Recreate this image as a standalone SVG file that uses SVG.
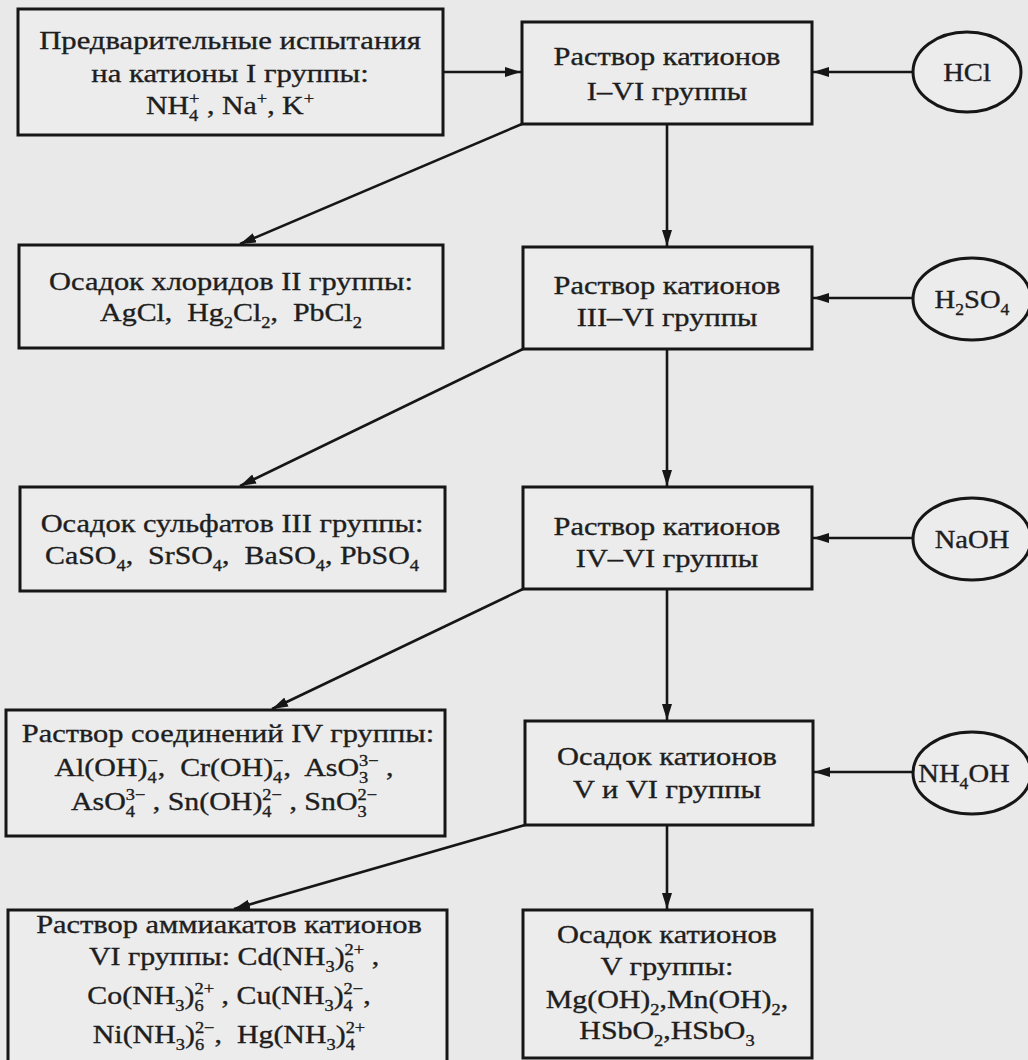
<svg xmlns="http://www.w3.org/2000/svg" width="1028" height="1060" viewBox="0 0 1028 1060">
<defs>
<style>
.bg{fill:#e9e9e9}
.box{fill:#ececec;stroke:#161616;stroke-width:3}
.ell{fill:#ececec;stroke:#161616;stroke-width:3}
.t{font-family:"Liberation Serif","Times New Roman",serif;font-size:26px;fill:#1e1e1e;stroke:#1e1e1e;stroke-width:0.35;text-anchor:middle;white-space:pre}
.s{font-size:16px}
.c{stroke:#161616;stroke-width:2.6;fill:none;marker-end:url(#ah)}
</style>
<marker id="ah" viewBox="0 0 16 10" markerWidth="16" markerHeight="10" refX="16" refY="5" orient="auto" markerUnits="userSpaceOnUse">
<path d="M0,0 L16,5 L0,10 z" fill="#161616"/>
</marker>
</defs>
<rect class="bg" x="0" y="0" width="1028" height="1060"/>

<g id="connectors">
<line class="c" x1="443" y1="72" x2="521" y2="72"/>
<line class="c" x1="913" y1="72" x2="813" y2="72"/>
<line class="c" x1="913" y1="298" x2="813" y2="298"/>
<line class="c" x1="913" y1="538" x2="813" y2="538"/>
<line class="c" x1="913" y1="772" x2="814" y2="772"/>
<line class="c" x1="667" y1="124" x2="667" y2="246"/>
<line class="c" x1="667" y1="349" x2="667" y2="486"/>
<line class="c" x1="667" y1="589" x2="667" y2="720"/>
<line class="c" x1="667" y1="825" x2="667" y2="909"/>
<line class="c" x1="522" y1="124" x2="240" y2="244"/>
<line class="c" x1="523" y1="349" x2="240" y2="486"/>
<line class="c" x1="523" y1="589" x2="272" y2="709"/>
<line class="c" x1="525" y1="825" x2="234" y2="909"/>
</g>

<g id="prelim">
<rect class="box" x="18" y="9" width="425" height="126"/>
<text class="t" transform="translate(230 49) scale(1.18 1)">Предварительные испытания</text>
<text class="t" transform="translate(230 82) scale(1.18 1)">на катионы I группы:</text>
<text class="t" transform="translate(230 114) scale(1.15 1)">NH<tspan class="s" dy="7">4</tspan><tspan class="s" dx="-8" dy="-17">+</tspan><tspan dy="10"> , Na</tspan><tspan class="s" dy="-10">+</tspan><tspan dy="10">, K</tspan><tspan class="s" dy="-10">+</tspan></text>
</g>

<g id="sol1">
<rect class="box" x="522" y="22" width="290" height="102"/>
<text class="t" transform="translate(667 65) scale(1.17 1)">Раствор катионов</text>
<text class="t" transform="translate(667 100) scale(1.17 1)">I–VI группы</text>
</g>

<g id="hcl">
<ellipse class="ell" cx="967" cy="72" rx="54" ry="40"/>
<text class="t" transform="translate(967 81) scale(1.1 1)">HCl</text>
</g>

<g id="chlorides">
<rect class="box" x="19" y="245" width="424" height="103"/>
<text class="t" transform="translate(231 290) scale(1.17 1)">Осадок хлоридов II группы:</text>
<text class="t" transform="translate(231 321) scale(1.15 1)">AgCl,  Hg<tspan class="s" dy="7">2</tspan><tspan dy="-7">Cl</tspan><tspan class="s" dy="7">2</tspan><tspan dy="-7">,  PbCl</tspan><tspan class="s" dy="7">2</tspan></text>
</g>

<g id="sol2">
<rect class="box" x="523" y="247" width="289" height="102"/>
<text class="t" transform="translate(667 294) scale(1.17 1)">Раствор катионов</text>
<text class="t" transform="translate(667 326) scale(1.17 1)">III–VI группы</text>
</g>

<g id="h2so4">
<ellipse class="ell" cx="972" cy="299" rx="59" ry="41"/>
<text class="t" transform="translate(972 308) scale(1.1 1)">H<tspan class="s" dy="7">2</tspan><tspan dy="-7">SO</tspan><tspan class="s" dy="7">4</tspan></text>
</g>

<g id="sulfates">
<rect class="box" x="20" y="487" width="425" height="104"/>
<text class="t" transform="translate(232 532) scale(1.17 1)">Осадок сульфатов III группы:</text>
<text class="t" transform="translate(232 564) scale(1.15 1)">CaSO<tspan class="s" dy="7">4</tspan><tspan dy="-7">,  SrSO</tspan><tspan class="s" dy="7">4</tspan><tspan dy="-7">,  BaSO</tspan><tspan class="s" dy="7">4</tspan><tspan dy="-7">, PbSO</tspan><tspan class="s" dy="7">4</tspan></text>
</g>

<g id="sol3">
<rect class="box" x="523" y="487" width="289" height="102"/>
<text class="t" transform="translate(667 535) scale(1.17 1)">Раствор катионов</text>
<text class="t" transform="translate(667 567) scale(1.17 1)">IV–VI группы</text>
</g>

<g id="naoh">
<ellipse class="ell" cx="972" cy="539" rx="59" ry="41"/>
<text class="t" transform="translate(972 548) scale(1.1 1)">NaOH</text>
</g>

<g id="group4">
<rect class="box" x="6" y="710" width="439" height="126"/>
<text class="t" transform="translate(228 742) scale(1.17 1)">Раствор соединений IV группы:</text>
<text class="t" transform="translate(224 776) scale(1.15 1)">Al(OH)<tspan class="s" dy="7">4</tspan><tspan class="s" dx="-8" dy="-17">−</tspan><tspan dy="10">,  Cr(OH)</tspan><tspan class="s" dy="7">4</tspan><tspan class="s" dx="-8" dy="-17">−</tspan><tspan dy="10">,  AsO</tspan><tspan class="s" dy="7">3</tspan><tspan class="s" dx="-8" dy="-17">3−</tspan><tspan dy="10"> ,</tspan></text>
<text class="t" transform="translate(224 810) scale(1.15 1)">AsO<tspan class="s" dy="7">4</tspan><tspan class="s" dx="-8" dy="-17">3−</tspan><tspan dy="10"> , Sn(OH)</tspan><tspan class="s" dy="7">4</tspan><tspan class="s" dx="-8" dy="-17">2−</tspan><tspan dy="10"> , SnO</tspan><tspan class="s" dy="7">3</tspan><tspan class="s" dx="-8" dy="-17">2−</tspan></text>
</g>

<g id="prec56">
<rect class="box" x="525" y="721" width="288" height="104"/>
<text class="t" transform="translate(667 765) scale(1.17 1)">Осадок катионов</text>
<text class="t" transform="translate(667 798) scale(1.17 1)">V и VI группы</text>
</g>

<g id="nh4oh">
<ellipse class="ell" cx="972" cy="773" rx="59" ry="41"/>
<text class="t" transform="translate(964 782) scale(1.1 1)">NH<tspan class="s" dy="7">4</tspan><tspan dy="-7">OH</tspan></text>
</g>

<g id="ammines">
<rect class="box" x="8" y="910" width="439" height="156"/>
<text class="t" transform="translate(229 933) scale(1.17 1)">Раствор аммиакатов катионов</text>
<text class="t" transform="translate(234 965) scale(1.15 1)">VI группы: Cd(NH<tspan class="s" dy="7">3</tspan><tspan dy="-7">)</tspan><tspan class="s" dy="7">6</tspan><tspan class="s" dx="-8" dy="-17">2+</tspan><tspan dy="10"> ,</tspan></text>
<text class="t" transform="translate(229 1004) scale(1.15 1)">Co(NH<tspan class="s" dy="7">3</tspan><tspan dy="-7">)</tspan><tspan class="s" dy="7">6</tspan><tspan class="s" dx="-8" dy="-17">2+</tspan><tspan dy="10"> , Cu(NH</tspan><tspan class="s" dy="7">3</tspan><tspan dy="-7">)</tspan><tspan class="s" dy="7">4</tspan><tspan class="s" dx="-8" dy="-17">2−</tspan><tspan dy="10">,</tspan></text>
<text class="t" transform="translate(229 1043) scale(1.15 1)">Ni(NH<tspan class="s" dy="7">3</tspan><tspan dy="-7">)</tspan><tspan class="s" dy="7">6</tspan><tspan class="s" dx="-8" dy="-17">2−</tspan><tspan dy="10">,  Hg(NH</tspan><tspan class="s" dy="7">3</tspan><tspan dy="-7">)</tspan><tspan class="s" dy="7">4</tspan><tspan class="s" dx="-8" dy="-17">2+</tspan></text>
</g>

<g id="prec5">
<rect class="box" x="523" y="910" width="289" height="148"/>
<text class="t" transform="translate(667 943) scale(1.17 1)">Осадок катионов</text>
<text class="t" transform="translate(667 975) scale(1.17 1)">V группы:</text>
<text class="t" transform="translate(667 1008) scale(1.15 1)">Mg(OH)<tspan class="s" dy="7">2</tspan><tspan dy="-7">,Mn(OH)</tspan><tspan class="s" dy="7">2</tspan><tspan dy="-7">,</tspan></text>
<text class="t" transform="translate(667 1039) scale(1.15 1)">HSbO<tspan class="s" dy="7">2</tspan><tspan dy="-7">,HSbO</tspan><tspan class="s" dy="7">3</tspan></text>
</g>
</svg>
